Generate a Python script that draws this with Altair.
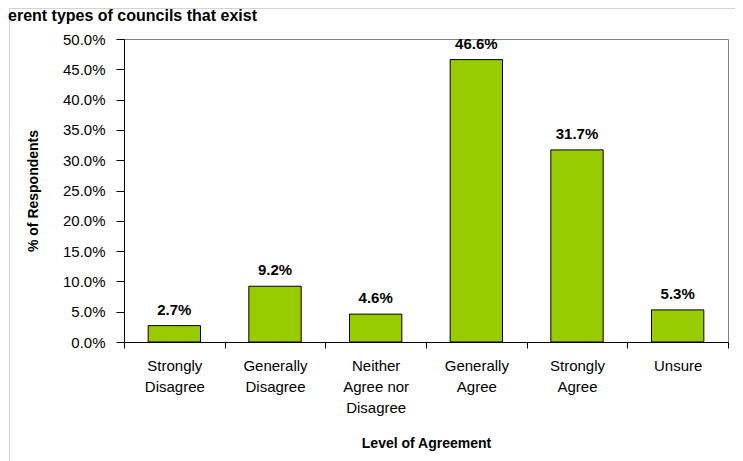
import json
import altair as alt
import pandas as pd

# ---- data ----
categories = ["Strongly Disagree", "Generally Disagree", "Neither Agree nor Disagree",
              "Generally Agree", "Strongly Agree", "Unsure"]
label_lines = [["Strongly", "Disagree"], ["Generally", "Disagree"],
               ["Neither", "Agree nor", "Disagree"], ["Generally", "Agree"],
               ["Strongly", "Agree"], ["Unsure"]]
percents = [2.7, 9.2, 4.6, 46.6, 31.7, 5.3]
y_ticks = [0, 5, 10, 15, 20, 25, 30, 35, 40, 45, 50]
title_text = "erent types of councils that exist"
x_title = "Level of Agreement"
y_title = "% of Respondents"

FONT = "Liberation Sans"
GREEN = "#99CC00"

df = pd.DataFrame({"category": categories, "pct": percents})
one = pd.DataFrame({"k": [0]})

label_expr = "".join(
    f"datum.value == '{c}' ? {json.dumps(l)} : " for c, l in zip(categories, label_lines)
) + "datum.value"

x_scale = alt.Scale(paddingInner=0, paddingOuter=0)
y_scale = alt.Scale(domain=[0, 50], nice=False)

x_enc = alt.X(
    "category:N", sort=categories, scale=x_scale,
    axis=alt.Axis(
        title=x_title, labelExpr=label_expr, labelAngle=0, tickBand="extent",
        tickSize=6, tickColor="black", domainColor="black", labelPadding=10,
        labelLineHeight=21, labelFontSize=15, labelColor="black", labelOverlap=False,
        titleFontSize=14, titleFontWeight="bold", titlePadding=21, titleColor="black",
    ),
)
y_enc = alt.Y(
    "pct:Q", scale=y_scale,
    axis=alt.Axis(
        title=y_title, values=y_ticks, grid=False, labelOverlap=False,
        labelExpr="format(datum.value, '.1f') + '%'",
        tickSize=8, tickColor="black", domainColor="black", labelPadding=11,
        labelFontSize=15, labelColor="black",
        titleFontSize=14, titleFontWeight="bold", titlePadding=22, titleColor="black",
    ),
)

bars = alt.Chart(df).mark_bar(
    color=GREEN, stroke="black", strokeWidth=1, width=alt.RelativeBandSize(0.52)
).encode(x=x_enc, y=y_enc)

labels = alt.Chart(df).transform_calculate(
    label="format(datum.pct, '.1f') + '%'"
).mark_text(
    dy=-11, baseline="alphabetic", fontSize=15, fontWeight="bold", font=FONT, color="black"
).encode(x=x_enc, y=y_enc, text="label:N")

top_border = alt.Chart(one).mark_rule(color="#d4d4d4", strokeWidth=1).encode(
    x=alt.value(-114.5), x2=alt.value(620), y=alt.value(-30.5)
)
left_border = alt.Chart(one).mark_rule(color="#d4d4d4", strokeWidth=1).encode(
    x=alt.value(-114.5), y=alt.value(-31), y2=alt.value(430)
)
title = alt.Chart(one).mark_text(
    align="left", baseline="top", fontSize=16, fontWeight="bold", font=FONT, color="black"
).encode(x=alt.value(-116), y=alt.value(-31), text=alt.value(title_text))

chart = alt.layer(top_border, left_border, bars, labels, title).properties(
    width=604, height=303,
    autosize=alt.AutoSizeParams(type="none"),
    padding={"left": 116, "top": 31, "right": 7, "bottom": 119},
    background="white",
).configure_view(
    stroke="#808080", strokeWidth=1
).configure_axis(
    labelFont=FONT, titleFont=FONT
).configure_text(font=FONT)

chart.save("out.html", embed_options={"renderer": "svg", "actions": False})
